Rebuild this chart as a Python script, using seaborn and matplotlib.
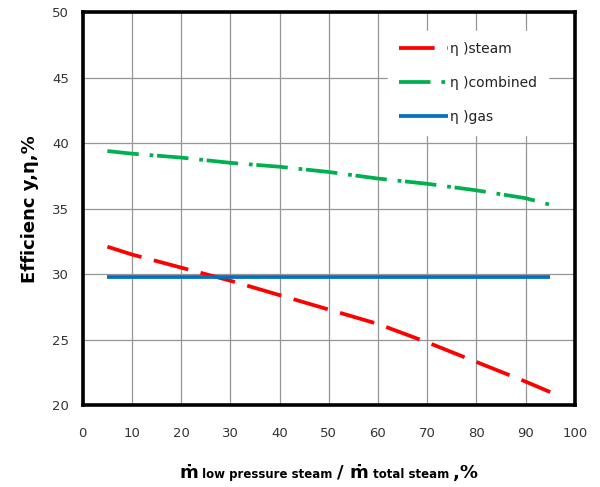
import matplotlib
matplotlib.use("Agg")
import matplotlib.pyplot as plt
from matplotlib.offsetbox import TextArea, HPacker, AnchoredOffsetbox
import seaborn as sns
import pandas as pd

# Share of low-pressure steam in total steam flow, %
share = [5, 10, 20, 30, 40, 50, 60, 70, 80, 90, 95]
eff_steam = [32.1, 31.5, 30.5, 29.5, 28.4, 27.3, 26.2, 24.8, 23.3, 21.8, 21.0]
eff_combined = [39.4, 39.2, 38.9, 38.5, 38.2, 37.8, 37.3, 36.9, 36.4, 35.8, 35.3]
eff_gas = [29.8, 29.8, 29.8, 29.8, 29.8, 29.8, 29.8, 29.8, 29.8, 29.8, 29.8]

x_ticks = [0, 10, 20, 30, 40, 50, 60, 70, 80, 90, 100]
y_ticks = [20, 25, 30, 35, 40, 45, 50]

df = pd.DataFrame({"share": share, "steam": eff_steam,
                   "combined": eff_combined, "gas": eff_gas})

sns.set_style("white")
plt.rcParams["font.family"] = ["DejaVu Sans"]

fig = plt.figure(figsize=(6.0, 4.87), dpi=100)
ax = fig.add_axes([0.138, 0.168, 0.82, 0.807])

lw = 2.7
sns.lineplot(data=df, x="share", y="steam", ax=ax, color="#FF0000", lw=lw,
             label="\u03b7 )steam", dashes=False)
sns.lineplot(data=df, x="share", y="combined", ax=ax, color="#00B050", lw=lw,
             label="\u03b7 )combined", dashes=False)
sns.lineplot(data=df, x="share", y="gas", ax=ax, color="#0070C0", lw=lw,
             label="\u03b7 )gas", dashes=False)

lines = ax.get_lines()
lines[0].set_dashes((9.5, 3.4))
lines[1].set_dashes((8.4, 2.9, 1.0, 1.0))
for ln in lines:
    ln.set_solid_capstyle("butt")
    ln.set_dash_capstyle("butt")

ax.set_xlim(0, 100)
ax.set_ylim(20, 50)
ax.set_xticks(x_ticks)
ax.set_yticks(y_ticks)
ax.grid(True, color="#969696", lw=0.9)
ax.set_axisbelow(True)

for s in ax.spines.values():
    s.set_visible(True)
    s.set_color("black")
    s.set_linewidth(2.6)

ax.tick_params(axis="both", direction="out", length=4, width=2.2,
               color="black", labelsize=9.5, labelcolor="#333333")
ax.tick_params(axis="x", pad=12)
ax.tick_params(axis="y", pad=6)

ax.set_xlabel("")
ax.set_ylabel("Efficienc y,\u03b7,%", fontsize=13, fontweight="bold",
              color="black", labelpad=9)

leg = ax.legend(loc="upper right", bbox_to_anchor=(0.96, 0.97),
                frameon=True, fancybox=False, fontsize=10,
                handlelength=3.5, handletextpad=0.15, labelspacing=1.45,
                borderpad=0.8)
leg.get_frame().set_facecolor("white")
leg.get_frame().set_edgecolor("white")
leg.get_frame().set_alpha(1.0)
for t in leg.get_texts():
    t.set_color("#222222")

# x-axis title with smaller subscript-style words
big = dict(fontsize=13, fontweight="bold", color="black")
small = dict(fontsize=8.5, fontweight="bold", color="black")
parts = [
    TextArea("\u1e41", textprops=big),
    TextArea(" low pressure steam ", textprops=small),
    TextArea("/ ", textprops=big),
    TextArea("\u1e41", textprops=big),
    TextArea(" total steam ", textprops=small),
    TextArea(",%", textprops=big),
]
box = HPacker(children=parts, align="baseline", pad=0, sep=0)
anchored = AnchoredOffsetbox(loc="upper center", child=box, frameon=False,
                             bbox_to_anchor=(0.5, -0.135),
                             bbox_transform=ax.transAxes, borderpad=0)
ax.add_artist(anchored)

fig.savefig("out.png", dpi=100, facecolor="white")
